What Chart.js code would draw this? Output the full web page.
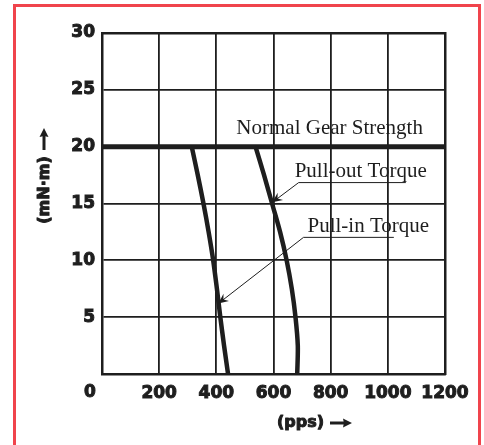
<!DOCTYPE html>
<html>
<head>
<meta charset="utf-8">
<script src="https://cdn.jsdelivr.net/npm/chart.js@4.4.1/dist/chart.umd.min.js"></script>
<style>
  html, body { margin: 0; padding: 0; background: #fff; overflow: hidden; }
  #wrap { position: relative; width: 484px; height: 445px; }
  #frame {
    position: absolute; left: 13px; top: 4px; width: 468px; height: 470px;
    border: 3px solid #f0444c; box-sizing: border-box;
  }
  canvas { position: absolute; left: 0; top: 0; }
</style>
</head>
<body>
<div id="wrap">
  <div id="frame"></div>
  <canvas id="c" width="484" height="445"></canvas>
</div>
<script>
// Stepping motor torque vs pulse rate (mN·m vs pps).
const torqueLevels = [20, 17.5, 15, 12.5, 10, 7.5, 5, 2.5, 0];
const pullOutPps = [537, 567, 595, 623, 646, 664, 677, 685, 683];
const pullInPps = [314, 335, 355, 373, 389, 402, 414, 427, 441];
const gearStrengthPps = [0, 1200];
const gearStrengthTorque = [20, 20];
const xTicks = [0, 200, 400, 600, 800, 1000, 1200];
const yTicks = [0, 5, 10, 15, 20, 25, 30];

const INK = "#1e1e1e";
const SANS = "'DejaVu Sans', Verdana, sans-serif";
const TICK_FONT = { family: SANS, size: 17, weight: "bold" };
const SERIF = "21px 'Liberation Serif', 'Times New Roman', serif";

const toPoints = (xs, ys) => xs.map((x, i) => ({ x, y: ys[i] }));

// labels + leader lines, placed in data units
const callouts = [
  { text: "Normal Gear Strength", tx: 470, ty: 21.1 },
  { text: "Pull-out Torque", tx: 674, ty: 17.37,
    line: [[1063, 16.84], [688, 16.84]], tip: [596, 15.1] },
  { text: "Pull-in Torque", tx: 719, ty: 12.46,
    line: [[1021, 12.02], [705, 12.02]], tip: [407, 6.2] },
];

function arrowHead(ctx, tip, ang, L, W, notch) {
  const c = Math.cos(ang), s = Math.sin(ang);
  const bx = tip[0] - L * c, by = tip[1] - L * s;
  const mx = tip[0] - L * notch * c, my = tip[1] - L * notch * s;
  ctx.beginPath();
  ctx.moveTo(tip[0], tip[1]);
  ctx.lineTo(bx - s * W, by + c * W);
  ctx.lineTo(mx, my);
  ctx.lineTo(bx + s * W, by - c * W);
  ctx.closePath();
  ctx.fill();
}

function boldArrow(ctx, x0, y0, x1, y1) {
  ctx.lineWidth = 3;
  const ang = Math.atan2(y1 - y0, x1 - x0);
  ctx.beginPath();
  ctx.moveTo(x0, y0);
  ctx.lineTo(x1 - 6 * Math.cos(ang), y1 - 6 * Math.sin(ang));
  ctx.stroke();
  arrowHead(ctx, [x1, y1], ang, 9, 4.5, 0.9);
}

function heavyText(ctx, text, x, y) {
  ctx.lineWidth = 1;
  ctx.strokeText(text, x, y);
  ctx.fillText(text, x, y);
}

const decorations = {
  id: "decorations",
  afterDraw(chart) {
    const { ctx, scales: { x, y } } = chart;
    ctx.save();
    ctx.fillStyle = INK;
    ctx.strokeStyle = INK;
    ctx.lineJoin = "round";
    ctx.font = SERIF;
    ctx.textBaseline = "alphabetic";
    ctx.textAlign = "left";
    for (const c of callouts) {
      ctx.fillText(c.text, x.getPixelForValue(c.tx), y.getPixelForValue(c.ty));
      if (!c.line) continue;
      const pts = c.line.map(([a, b]) => [x.getPixelForValue(a), y.getPixelForValue(b)]);
      const tip = [x.getPixelForValue(c.tip[0]), y.getPixelForValue(c.tip[1])];
      const last = pts[pts.length - 1];
      ctx.lineWidth = 1;
      ctx.beginPath();
      ctx.moveTo(pts[0][0], pts[0][1]);
      pts.slice(1).forEach((p) => ctx.lineTo(p[0], p[1]));
      ctx.lineTo(tip[0], tip[1]);
      ctx.stroke();
      arrowHead(ctx, tip, Math.atan2(tip[1] - last[1], tip[0] - last[0]), 10, 4.5, 0.65);
    }
    // shared origin "0", sits left of the corner
    ctx.font = `bold ${TICK_FONT.size}px ${SANS}`;
    ctx.textAlign = "center";
    ctx.textBaseline = "middle";
    heavyText(ctx, "0", x.left - 12, y.bottom + 19);
    // axis titles
    ctx.font = `bold 16px ${SANS}`;
    ctx.textAlign = "left";
    heavyText(ctx, "(pps)", 277, 423);
    boldArrow(ctx, 330, 423, 352, 423);
    ctx.save();
    ctx.translate(45, 190);
    ctx.rotate(-Math.PI / 2);
    ctx.textAlign = "center";
    heavyText(ctx, "(mN·m)", 0, 0);
    ctx.restore();
    boldArrow(ctx, 44, 150, 44, 128);
    ctx.restore();
  },
};

const lineStyle = {
  borderColor: INK,
  borderWidth: 4.5,
  pointRadius: 0,
  showLine: true,
  fill: false,
  tension: 0.3,
};

const tickStyle = {
  color: INK,
  font: TICK_FONT,
  textStrokeColor: INK,
  textStrokeWidth: 1,
  autoSkip: false,
  callback: (v) => (v === 0 ? "" : String(v)),
};

new Chart(document.getElementById("c"), {
  type: "scatter",
  data: {
    datasets: [
      { label: "Normal Gear Strength", data: toPoints(gearStrengthPps, gearStrengthTorque),
        ...lineStyle, borderWidth: 5, tension: 0 },
      { label: "Pull-out Torque", data: toPoints(pullOutPps, torqueLevels), ...lineStyle },
      { label: "Pull-in Torque", data: toPoints(pullInPps, torqueLevels), ...lineStyle },
    ],
  },
  options: {
    responsive: false,
    animation: false,
    devicePixelRatio: 1,
    layout: { padding: { left: 0, top: 33, right: 39, bottom: 0 } },
    plugins: { legend: { display: false }, tooltip: { enabled: false } },
    scales: {
      x: {
        type: "linear",
        min: 0,
        max: 1200,
        afterBuildTicks: (s) => { s.ticks = xTicks.map((v) => ({ value: v })); },
        afterFit: (s) => { s.height = 71; },
        ticks: { ...tickStyle, padding: 9, maxRotation: 0 },
        grid: { color: INK, lineWidth: 1.8, drawTicks: false },
        border: { color: INK, width: 2.5 },
      },
      y: {
        type: "linear",
        min: 0,
        max: 30,
        afterBuildTicks: (s) => { s.ticks = yTicks.map((v) => ({ value: v })); },
        afterFit: (s) => { s.width = 102; },
        ticks: { ...tickStyle, padding: 7 },
        grid: { color: INK, lineWidth: 1.8, drawTicks: false },
        border: { color: INK, width: 2.5 },
      },
      x2: {
        type: "linear", position: "top", min: 0, max: 1200, display: true,
        ticks: { display: false }, grid: { display: false, drawTicks: false },
        border: { color: INK, width: 2.5 }, afterFit: (s) => { s.height = 0; },
      },
      y2: {
        type: "linear", position: "right", min: 0, max: 30, display: true,
        ticks: { display: false }, grid: { display: false, drawTicks: false },
        border: { color: INK, width: 2.5 }, afterFit: (s) => { s.width = 0; },
      },
    },
  },
  plugins: [decorations],
});
</script>
</body>
</html>
